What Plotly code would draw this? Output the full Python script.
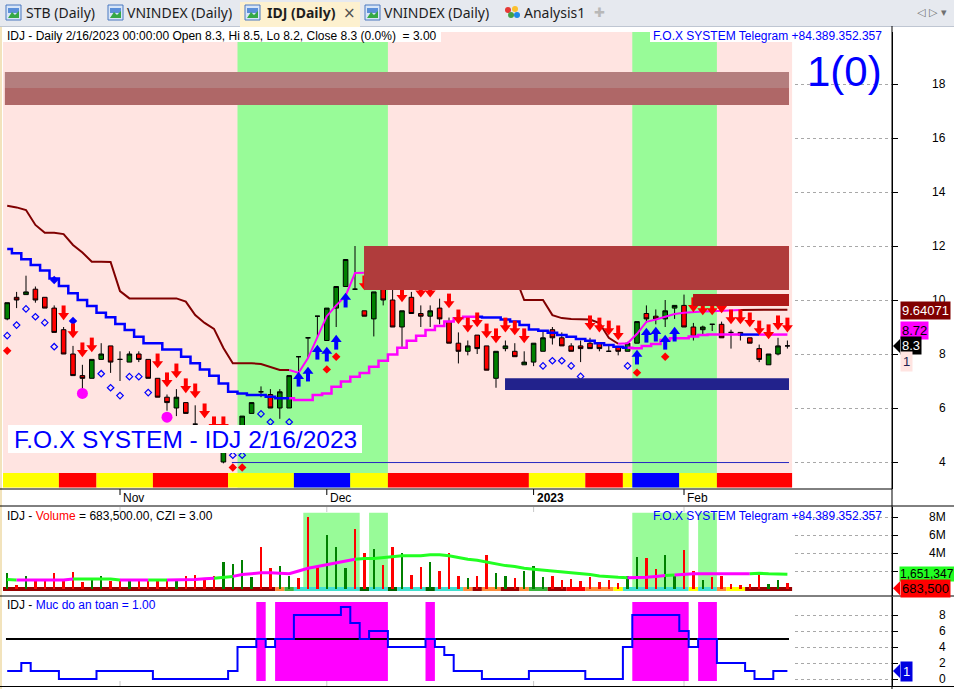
import plotly.graph_objects as go

W, H = 954, 689

# ======================= DATA =======================
bars = list(range(84))
month_labels = ["Nov", "Dec", "2023", "Feb"]
month_bars = [12, 34, 56, 72]
month_bold = [False, False, True, False]

opens = [9.3, 10.1, 10.2, 10.4, 10.1, 9.7, 8.9, 8.0, 7.2, 7.1,
         7.8, 8.3, 7.8, 7.7, 8.0, 7.8, 7.1, 6.4, 6.0, 6.2,
         5.4, 5.3, 5.0, 4.0, 4.4, 5.1, 5.8, 6.6, 6.5, 6.0,
         6.0, 7.9, 8.6, 9.4, 8.5, 9.7, 10.5, 10.4, 9.6, 9.3,
         10.9, 10.0, 9.0, 10.1, 9.5, 9.4, 9.7, 9.2, 8.4, 8.1,
         8.7, 8.3, 7.1, 8.2, 8.1, 7.6, 7.7, 8.1, 8.9, 8.6,
         8.3, 8.3, 8.4, 8.4, 8.1, 8.25, 8.1, 8.4, 9.5, 9.4,
         9.3, 9.7, 9.8, 9.0, 8.9, 9.1, 9.1, 8.8, 8.8, 8.6,
         8.2, 7.6, 8.0, 8.3]
highs = [9.9, 10.3, 10.9, 10.5, 10.1, 9.8, 9.0, 8.3, 7.6, 7.8,
         8.4, 8.3, 8.1, 8.1, 8.1, 7.8, 7.1, 6.5, 6.7, 6.2,
         6.1, 5.35, 5.1, 4.5, 4.9, 5.7, 6.2, 6.8, 6.7, 6.7,
         7.2, 7.9, 8.6, 9.4, 9.7, 10.5, 11.5, 12.0, 9.6, 10.3,
         11.0, 10.4, 9.6, 10.3, 9.8, 9.8, 10.05, 9.35, 8.8, 8.5,
         8.7, 8.3, 8.1, 8.5, 8.4, 8.1, 8.4, 8.85, 9.0, 8.8,
         8.4, 8.5, 8.6, 8.4, 8.35, 8.3, 8.45, 9.2, 9.8, 9.65,
         10.0, 9.8, 10.2, 9.15, 9.05, 9.1, 9.2, 8.9, 8.8, 8.6,
         8.35, 8.0, 8.6, 8.5]
lows = [9.25, 9.7, 10.2, 9.9, 9.7, 8.8, 8.0, 7.2, 6.7, 7.1,
        7.8, 7.3, 7.0, 7.7, 7.7, 7.1, 6.4, 5.9, 5.7, 5.8,
        5.4, 4.9, 4.5, 3.95, 4.35, 5.0, 5.8, 6.4, 6.0, 5.6,
        6.0, 7.35, 7.85, 8.6, 8.5, 9.0, 10.5, 10.4, 9.4, 8.65,
        9.8, 9.0, 8.2, 9.5, 9.0, 9.0, 9.1, 8.4, 7.65, 7.95,
        8.0, 7.4, 6.75, 8.1, 7.9, 7.6, 7.55, 8.1, 8.35, 8.3,
        8.1, 7.7, 8.2, 8.1, 8.1, 7.95, 8.1, 8.4, 9.15, 9.1,
        9.0, 9.3, 9.0, 8.5, 8.7, 8.85, 8.6, 8.2, 8.5, 8.4,
        7.7, 7.6, 7.95, 8.2]
closes = [9.9, 10.0, 10.3, 10.0, 9.7, 8.8, 8.0, 7.2, 7.1, 7.8,
          8.0, 7.7, 7.8, 8.0, 7.8, 7.1, 6.4, 6.2, 6.4, 5.8,
          5.4, 5.0, 4.6, 4.4, 4.8, 5.7, 6.2, 6.6, 6.0, 6.6,
          7.2, 7.9, 8.6, 9.4, 9.7, 10.5, 11.5, 10.4, 9.4, 10.3,
          10.0, 9.0, 9.6, 9.5, 9.4, 9.6, 9.3, 8.4, 8.1, 8.3,
          8.2, 7.4, 8.1, 8.3, 7.9, 7.7, 8.4, 8.6, 8.6, 8.3,
          8.1, 8.2, 8.2, 8.2, 8.1, 8.1, 8.4, 9.2, 9.3, 9.3,
          9.6, 9.8, 9.0, 8.65, 9.0, 9.1, 8.6, 8.8, 8.7, 8.4,
          7.8, 8.0, 8.3, 8.3]

# upper trailing line (dark red when bearish, magenta when bullish)
line_a = [13.49, 13.43, 13.33, 12.78, 12.49, 12.49, 12.44, 12.04, 11.76, 11.42,
          11.42, 11.41, 10.33, 10.06, 10.06, 10.06, 10.06, 10.06, 10.06, 9.94,
          9.44, 9.15, 8.93, 8.22, 7.66, 7.66, 7.66, 7.63, 7.52, 7.41,
          7.41, 7.30, 7.85, 8.60, 9.40, 9.80, 10.15, 11.00, 11.02, 11.02,
          11.02, 11.02, 11.02, 11.02, 11.02, 11.02, 11.02, 11.60, 11.50, 11.40,
          11.30, 11.20, 11.10, 11.00, 10.90, 10.00, 10.00, 10.00, 9.44, 9.33,
          9.30, 9.28, 9.28, 9.15, 8.60, 8.38, 8.40, 8.75, 9.19, 9.28,
          9.37, 9.48, 9.53, 9.56, 9.57, 9.58, 9.60, 9.60, 9.63, 9.64,
          9.64, 9.64, 9.64, 9.64071]
line_a_runs = [("D", 31), ("M", 16), ("D", 19), ("M", 13), ("D", 5)]

# lower trailing step line (blue when above price, magenta when below)
line_b = [11.89, 11.73, 11.51, 11.30, 11.09, 10.80, 10.52, 10.25, 10.00, 9.78,
          9.53, 9.36, 9.11, 8.89, 8.64, 8.40, 8.40, 8.17, 8.17, 7.90,
          7.66, 7.43, 7.19, 6.91, 6.60, 6.54, 6.48, 6.48, 6.42, 6.36,
          6.36, 6.30, 6.30, 6.48, 6.54, 6.79, 6.98, 7.16, 7.30, 7.53,
          7.75, 7.98, 8.23, 8.49, 8.68, 8.89, 9.04, 9.20, 9.32, 9.38,
          9.38, 9.35, 9.35, 9.28, 9.20, 9.07, 8.91, 8.86, 8.79, 8.70,
          8.64, 8.56, 8.49, 8.40, 8.33, 8.27, 8.23, 8.21, 8.30, 8.37,
          8.52, 8.58, 8.58, 8.65, 8.70, 8.72, 8.72, 8.72, 8.72, 8.72,
          8.72, 8.72, 8.72, 8.72]
line_b_runs = [("B", 31), ("M", 20), ("B", 16), ("M", 12), ("B", 2), ("M", 3)]

sell_bars = [6, 7, 8, 9, 16, 17, 18, 19, 20, 21, 22, 23, 38, 42, 44, 45, 47, 48, 49, 50,
             51, 52, 53, 54, 55, 62, 63, 64, 65, 73, 74, 75, 76, 77, 78, 79, 80, 81, 82, 83]
sell_tip = [9.26, 8.59, 7.89, 8.07, 7.48, 6.78, 7.11, 6.56, 6.37, 5.63, 5.15, 5.15, 10.37, 9.93,
            10.1, 10.1, 9.7, 9.11, 8.81, 9.0, 8.59, 8.41, 8.81, 8.7, 8.41, 8.89, 8.81, 8.7, 8.52,
            9.56, 9.44, 9.44, 9.52, 9.11, 9.11, 9.0, 8.7, 8.56, 8.89, 8.81]
buy_bars = [31, 32, 33, 34, 35, 36, 67, 68, 69, 70, 71]
buy_tip = [7.33, 7.52, 8.33, 8.26, 8.7, 10.26, 8.15, 8.96, 9.0, 8.7, 9.0]

open_diamond_bars = [0, 1, 2, 3, 4, 5, 10, 11, 12, 13, 14, 15, 24, 25, 27, 28, 30, 57, 58, 59, 60, 61, 66]
open_diamond_y = [8.68, 9.07, 9.67, 9.38, 9.16, 8.27, 7.27, 6.75, 6.46, 7.16, 7.16, 6.57, 4.25, 4.25,
                  5.78, 5.48, 5.48, 7.56, 7.75, 7.75, 7.56, 7.17, 7.56]
blue_dot_bars = [5, 7]
blue_dot_y = [10.74, 9.22]
red_dot_bars = [0, 23, 24, 25, 34, 35, 67, 70]
red_dot_y = [8.12, 2.9, 3.8, 3.8, 7.43, 7.9, 7.31, 7.9]
circle_bars = [8, 17]
circle_y = [6.54, 5.66]

# horizontal zones drawn on the price pane: (x0 bar, x1 bar, low, high, colour)
price_boxes = [
    (-0.25, 83.17, 17.85, 18.44, "#B47E7E"),
    (-0.25, 83.17, 17.22, 17.85, "#AF6767"),
    (37.96, 83.17, 10.37, 12.00, "#B03C3C"),
    (72.96, 83.17, 9.78, 10.22, "#B01818"),
    (52.96, 83.17, 6.67, 7.10, "#22228C"),
]
support_line = (23.9, 83.17, 3.98)

green_zones_main = [(25, 40), (67, 75)]
green_zones_vol = [(32, 37), (39, 40), (67, 72), (74, 75)]
ribbon_main_runs = [("Y", 6), ("R", 4), ("Y", 6), ("R", 8), ("Y", 7), ("B", 6), ("Y", 4), ("R", 15),
                    ("Y", 6), ("R", 4), ("Y", 1), ("B", 5), ("Y", 4), ("R", 8)]

volume_m = [1.8, 0.5, 1.5, 0.9, 1.1, 1.8, 0.9, 1.9, 0.8, 1.0,
            1.4, 0.9, 0.9, 1.0, 1.1, 0.9, 1.0, 1.0, 1.0, 1.4,
            1.6, 1.1, 1.4, 3.0, 2.8, 3.2, 1.3, 4.7, 2.3, 2.6,
            1.5, 1.2, 8.0, 2.6, 6.0, 4.7, 2.3, 6.7, 4.0, 4.5,
            2.7, 4.7, 4.0, 1.6, 2.4, 3.0, 2.0, 4.0, 1.5, 1.2,
            1.5, 3.8, 1.8, 1.4, 1.2, 2.0, 2.6, 1.3, 1.5, 1.0,
            1.1, 0.9, 1.3, 0.8, 1.0, 0.7, 1.5, 3.6, 3.4, 2.2,
            3.8, 1.5, 4.3, 2.0, 1.0, 1.3, 1.4, 0.6, 0.5, 0.6,
            1.8, 0.6, 1.0, 0.6835]
vol_ma_m = [1.05, 1.0, 1.0, 1.0, 1.0, 1.0, 1.0, 1.1, 1.1, 1.1,
            1.1, 1.1, 1.0, 1.0, 1.0, 1.0, 1.0, 1.0, 1.0, 1.0,
            1.05, 1.15, 1.2, 1.3, 1.4, 1.6, 1.7, 1.8, 1.8, 1.75,
            1.7, 2.0, 2.3, 2.5, 2.7, 2.9, 3.1, 3.3, 3.4, 3.4,
            3.5, 3.6, 3.7, 3.7, 3.7, 3.8, 3.8, 3.7, 3.5, 3.3,
            3.2, 3.0, 2.8, 2.6, 2.5, 2.3, 2.2, 2.1, 2.0, 1.9,
            1.85, 1.7, 1.6, 1.45, 1.35, 1.3, 1.25, 1.25, 1.3, 1.4,
            1.5, 1.55, 1.65, 1.7, 1.7, 1.7, 1.7, 1.7, 1.7, 1.7,
            1.75, 1.7, 1.65, 1.651347]
vol_ma_runs = [("g", 2), ("m", 6), ("g", 5), ("m", 3), ("g", 2), ("m", 5), ("g", 2), ("m", 13),
               ("g", 29), ("m", 4), ("g", 1), ("m", 8), ("g", 4)]
vol_ribbon_runs = [("D", 29), ("O", 1), ("G", 1), ("C", 7), ("K", 1), ("C", 2), ("K", 1), ("C", 3),
                   ("K", 1), ("C", 3), ("O", 1), ("D", 1), ("O", 2), ("D", 2), ("O", 1), ("G", 2),
                   ("D", 2), ("R", 2), ("O", 3), ("Y", 1), ("C", 7), ("Y", 1), ("C", 2), ("O", 1),
                   ("Y", 2), ("D", 5)]

safety_level = [1, 1, 2, 1, 1, 1, 0, 0, 0, 0,
                1, 1, 1, 1, 1, 1, 0, 0, 0, 0,
                0, 0, 0, 0, 1, 4, 4, 5, 4, 5,
                5, 8, 8, 8, 8, 8, 9, 7, 5, 6,
                6, 4, 4, 4, 4, 5, 4, 3, 1, 1,
                1, 0, 0, 0, 0, 0, 1, 1, 1, 1,
                1, 1, 0, 0, 0, 0, 4, 8, 8, 8,
                8, 8, 6, 4, 5, 5, 2, 2, 2, 1,
                0, 0, 1, 1]
safety_threshold = 5

price_ticks = [4, 6, 8, 10, 12, 14, 16, 18]
vol_ticks = [2e6, 4e6, 6e6, 8e6]
vol_tick_text = ["", "4M", "6M", "8M"]   # the 2M label is hidden behind the MA value tag
safety_ticks = [0, 2, 4, 6, 8]

title_text = "IDJ - Daily 2/16/2023 00:00:00 Open 8.3, Hi 8.5, Lo 8.2, Close 8.3 (0.0%)  = 3.00"
telegram_text = "F.O.X SYSTEM Telegram +84.389.352.357"
big_text = "F.O.X SYSTEM - IDJ 2/16/2023"
signal_text = "1(0)"
tab_labels = ["STB (Daily)", "VNINDEX (Daily)", "IDJ (Daily)", "VNINDEX (Daily)", "Analysis1"]

# ======================= LAYOUT GEOMETRY =======================
PLOT_L, PLOT_R = 3, 892
MAIN_TOP, MAIN_BOT = 32, 489
VOL_TOP, VOL_BOT = 507, 596
SAFE_TOP, SAFE_BOT = 597, 686
X_RANGE = [-0.4468, 94.128]
Y_MAIN = [3.0, 19.926]
Y_VOL = [-0.778e6, 9.111e6]
Y_SAFE = [-0.875, 10.25]
PU = (Y_MAIN[1] - Y_MAIN[0]) / (MAIN_BOT - MAIN_TOP)   # price units per pixel
BLUE = "#0000FF"
FONT = "Liberation Sans, Arial, sans-serif"


def px(x):
    return x / W


def py(y):
    return 1 - y / H


def main_py(v):
    return MAIN_BOT - (v - Y_MAIN[0]) / (Y_MAIN[1] - Y_MAIN[0]) * (MAIN_BOT - MAIN_TOP)


def vol_py(v):
    return VOL_BOT - (v - Y_VOL[0]) / (Y_VOL[1] - Y_VOL[0]) * (VOL_BOT - VOL_TOP)


def safe_py(v):
    return SAFE_BOT - (v - Y_SAFE[0]) / (Y_SAFE[1] - Y_SAFE[0]) * (SAFE_BOT - SAFE_TOP)


def expand(runs):
    out = []
    for code, n in runs:
        out += [code] * n
    return out


def runs_of(codes):
    res = []
    start = 0
    for i in range(1, len(codes) + 1):
        if i == len(codes) or codes[i] != codes[start]:
            res.append((codes[start], start, i - 1))
            start = i
    return res


fig = go.Figure()
shapes = []
annotations = []


def rect(x0, x1, y0, y1, color, xref="x", yref="y", layer="between"):
    shapes.append(dict(type="rect", xref=xref, yref=yref, x0=x0, x1=x1, y0=y0, y1=y1,
                       fillcolor=color, line=dict(width=0), layer=layer))


def prect(x0, x1, y0, y1, color, line_color=None, lw=0):
    shapes.append(dict(type="rect", xref="paper", yref="paper", x0=px(x0), x1=px(x1),
                       y0=py(y1), y1=py(y0), fillcolor=color,
                       line=dict(width=lw, color=line_color or color), layer="above"))


def pline(x0, y0, x1, y1, color="black", w=1, dash="solid"):
    shapes.append(dict(type="line", xref="paper", yref="paper", x0=px(x0), y0=py(y0),
                       x1=px(x1), y1=py(y1), line=dict(color=color, width=w, dash=dash), layer="above"))


def ppath(points, color):
    d = "M " + " L ".join(f"{px(a):.5f},{py(b):.5f}" for a, b in points) + " Z"
    shapes.append(dict(type="path", xref="paper", yref="paper", path=d, fillcolor=color,
                       line=dict(width=0), layer="above"))


def text(t, x, y, size=12, color="black", xanchor="left", yanchor="middle", family=FONT, **kw):
    annotations.append(dict(text=t, x=px(x), y=py(y), xref="paper", yref="paper", showarrow=False,
                            xanchor=xanchor, yanchor=yanchor, font=dict(size=size, color=color, family=family), **kw))


# ======================= BACKGROUND ZONES =======================
rect(-0.5, 83.5, 3.06, Y_MAIN[1], "#FFE4E1")
for a, b in green_zones_main:
    rect(a - 0.5, b + 0.5, 3.06, Y_MAIN[1], "#98FB98")
ribbon_colors = {"Y": "#FFFF00", "R": "#FF0000", "B": "#0000FF"}
for code, a, b in runs_of(expand(ribbon_main_runs)):
    rect(a - 0.5, b + 0.5, 3.06, 3.59, ribbon_colors[code])

# volume pane
rect(-0.5, 83.5, Y_VOL[0], Y_VOL[1], "white", yref="y2")
for a, b in green_zones_vol:
    rect(a - 0.5, b + 0.5, 0.22e6, 8.48e6, "#98FB98", yref="y2")
vr_colors = {"D": "#990000", "O": "#FF8C3A", "G": "#3CB43C", "C": "#40E0D0", "K": "#006400",
             "R": "#FF0000", "Y": "#FFFF00"}
for code, a, b in runs_of(expand(vol_ribbon_runs)):
    rect(a - 0.5, b + 0.5, -0.22e6, 0.22e6, vr_colors[code], yref="y2")

# safety pane
rect(-0.5, 83.5, Y_SAFE[0], Y_SAFE[1], "white", yref="y3")
hot = ["H" if v >= safety_threshold else "-" for v in safety_level]
for code, a, b in runs_of(hot):
    if code == "H":
        rect(a - 0.5, b + 0.5, -0.25, 9.625, "#FF00FF", yref="y3")

# ======================= PRICE PANE TRACES =======================
def add_segments(values, codes, colors, shape, width, yaxis):
    for code, a, b in runs_of(codes):
        s = max(a - 1, 0)
        fig.add_trace(go.Scatter(x=bars[s:b + 1], y=values[s:b + 1], mode="lines",
                                 line=dict(color=colors[code], width=width, shape=shape),
                                 yaxis=yaxis, hoverinfo="skip"))


add_segments(line_a, expand(line_a_runs), {"D": "#800000", "M": "#FF00FF"}, "linear", 2, "y")
add_segments(line_b, expand(line_b_runs), {"B": "#0000FF", "M": "#FF00FF"}, "hvh", 2.5, "y")

fig.add_trace(go.Scatter(x=open_diamond_bars, y=open_diamond_y, mode="markers",
                         marker=dict(symbol="diamond-open", size=5, color=BLUE, line=dict(width=1.2, color=BLUE))))
fig.add_trace(go.Scatter(x=blue_dot_bars, y=blue_dot_y, mode="markers",
                         marker=dict(symbol="diamond", size=6.5, color=BLUE)))
fig.add_trace(go.Scatter(x=red_dot_bars, y=red_dot_y, mode="markers", cliponaxis=False,
                         marker=dict(symbol="diamond", size=6.5, color="#FF0000")))
fig.add_trace(go.Scatter(x=circle_bars, y=circle_y, mode="markers",
                         marker=dict(symbol="circle", size=11, color="#FF00FF")))

# arrows: shaft (line) + head (triangle)
sx, sy = [], []
for b, t in zip(sell_bars, sell_tip):
    sx += [b, b, None]
    sy += [t + 5.5 * PU, t + 14.5 * PU, None]
fig.add_trace(go.Scatter(x=sx, y=sy, mode="lines", line=dict(color="#FF0000", width=4)))
fig.add_trace(go.Scatter(x=sell_bars, y=[t + 4.5 * PU for t in sell_tip], mode="markers",
                         marker=dict(symbol="triangle-down", size=9.5, color="#FF0000", line=dict(width=0))))
bx, by = [], []
for b, t in zip(buy_bars, buy_tip):
    bx += [b, b, None]
    by += [t - 5.5 * PU, t - 14.5 * PU, None]
fig.add_trace(go.Scatter(x=bx, y=by, mode="lines", line=dict(color=BLUE, width=4)))
fig.add_trace(go.Scatter(x=buy_bars, y=[t - 4.5 * PU for t in buy_tip], mode="markers",
                         marker=dict(symbol="triangle-up", size=9.5, color=BLUE, line=dict(width=0))))

# zone boxes (drawn above lines / arrows, below candles)
for x0, x1, lo, hi, col in price_boxes:
    fig.add_trace(go.Scatter(x=[x0, x1, x1, x0, x0], y=[lo, lo, hi, hi, lo], mode="lines",
                             fill="toself", fillcolor=col, line=dict(width=0, color=col)))
fig.add_trace(go.Scatter(x=[support_line[0], support_line[1]], y=[support_line[2]] * 2, mode="lines",
                         line=dict(color="#2828C0", width=1)))

fig.add_trace(go.Candlestick(
    x=bars, open=opens, high=highs, low=lows, close=closes,
    increasing=dict(fillcolor="#008000", line=dict(color="black", width=1)),
    decreasing=dict(fillcolor="#FF0000", line=dict(color="black", width=1)),
    whiskerwidth=0, hoverinfo="skip"))

# ======================= VOLUME PANE TRACES =======================
vol_colors = ["#008000" if c > o else "#FF0000" for o, c in zip(opens, closes)]
fig.add_trace(go.Bar(x=bars, y=[v * 1e6 for v in volume_m], width=0.25, yaxis="y2",
                     marker=dict(color=vol_colors, line=dict(width=0))))
add_segments([v * 1e6 for v in vol_ma_m], expand(vol_ma_runs), {"g": "#22FF22", "m": "#FF00FF"},
             "linear", 3, "y2")

# ======================= SAFETY PANE TRACES =======================
fig.add_trace(go.Scatter(x=[-0.13, 83.17], y=[safety_threshold] * 2, mode="lines", yaxis="y3",
                         line=dict(color="black", width=2)))
fig.add_trace(go.Scatter(x=bars, y=safety_level, mode="lines", yaxis="y3",
                         line=dict(color=BLUE, width=2, shape="hvh")))

# ======================= DECORATION =======================
# tab bar
prect(0, 954, 0, 26, "#E6E9EF")
prect(240, 360, 2, 27, "#FDF1CF")
pline(0, 26.5, 240, 26.5, "#BFC6D2")
pline(360, 26.5, 954, 26.5, "#BFC6D2")
tab_x = [24, 125, 265, 382, 522]
icon_x = [6, 108, 245, 365]
for i, (lab, x) in enumerate(zip(tab_labels, tab_x)):
    t = "<b>" + lab + "</b>" if i == 2 else lab
    text(t, x, 13, size=14, color="#1E1E1E", family="Noto Sans, DejaVu Sans, sans-serif")
for x in icon_x:
    prect(x, x + 15, 5, 20, "#D8E6F8", "#4A78C0", 1)
    prect(x + 2, x + 13, 8, 13, "#5B8FD9")
    ppath([(x + 2, 18), (x + 6, 12), (x + 9, 15), (x + 13, 11), (x + 13, 18)], "#35A845")
for cx, cy, col in [(508, 10, "#E53935"), (515, 9, "#FBC02D"), (511, 15, "#43A047"), (517, 15, "#1E88E5")]:
    shapes.append(dict(type="circle", xref="paper", yref="paper", x0=px(cx - 3), x1=px(cx + 3),
                       y0=py(cy + 3), y1=py(cy - 3), fillcolor=col, line=dict(width=0), layer="above"))
text("×", 349, 13, size=15, color="#505050", xanchor="center", family="DejaVu Sans")
text("✚", 599, 13, size=13, color="#B8B8B8", xanchor="center", family="DejaVu Sans")
text("◁ ▷ ▾", 932, 13, size=11, color="#707070", xanchor="center", family="DejaVu Sans")

# frame lines
prect(0, 2, 27, 689, "#F2E3BC")
pline(PLOT_R, 26, PLOT_R, 689)
pline(0, MAIN_BOT, PLOT_R, MAIN_BOT)
pline(0, 506, 954, 506)
pline(0, 596, 954, 596)
pline(0, 686.5, 954, 686.5)
for b in month_bars:
    shapes.append(dict(type="line", xref="x", yref="paper", x0=b, x1=b, y0=py(MAIN_BOT), y1=py(495),
                       line=dict(color="black", width=1), layer="above"))
    shapes.append(dict(type="line", xref="x", yref="paper", x0=b, x1=b, y0=py(VOL_TOP), y1=py(VOL_TOP + 5),
                       line=dict(color="#C8C8C8", width=1), layer="above"))
    shapes.append(dict(type="line", xref="x", yref="paper", x0=b, x1=b, y0=py(SAFE_BOT), y1=py(SAFE_BOT - 5),
                       line=dict(color="#C8C8C8", width=1), layer="above"))

# title backgrounds
prect(3, 441, 27, 42, "white")
prect(650, 891, 27, 42, "white")
prect(8, 362, 425, 453, "white")

# texts
text(title_text, 5, 35.5, size=12)
text(telegram_text, 651, 35.5, size=12, color=BLUE)
text(signal_text, 844, 72, size=42, color=BLUE, xanchor="center")
text(big_text, 185, 439.5, size=24.5, color=BLUE, xanchor="center")
text("IDJ - <span style='color:#FF0000'>Volume</span> = 683,500.00, CZI = 3.00", 5, 516, size=12)
text(telegram_text, 651, 516, size=12, color=BLUE)
text("IDJ - <span style='color:#0000FF'>Muc do an toan = 1.00</span>", 5, 605, size=12)

for lab, b, bold in zip(month_labels, month_bars, month_bold):
    annotations.append(dict(text="<b>" + lab + "</b>" if bold else lab, x=b, xref="x", y=py(497.5),
                            yref="paper", xanchor="left", yanchor="middle", xshift=1, showarrow=False,
                            font=dict(size=12, color="black", family=FONT)))

for v in price_ticks:
    annotations.append(dict(text=str(v), x=px(948), xref="paper", y=v, yref="y", xanchor="right",
                            yanchor="middle", showarrow=False, font=dict(size=12, family=FONT)))
for v, t in zip(vol_ticks, vol_tick_text):
    if t:
        annotations.append(dict(text=t, x=px(948), xref="paper", y=v, yref="y2", xanchor="right",
                                yanchor="middle", showarrow=False, font=dict(size=12, family=FONT)))
for v in safety_ticks:
    annotations.append(dict(text=str(v), x=px(948), xref="paper", y=v, yref="y3", xanchor="right",
                            yanchor="middle", showarrow=False, font=dict(size=12, family=FONT)))


def value_label(t, y, yref, bg, fg, yshift=0, pointer=False, ycenter=None, x0=900, pad=1, size=13):
    annotations.append(dict(text=t, x=px(x0), xref="paper", y=y, yref=yref, xanchor="left",
                            yanchor="middle", yshift=yshift, showarrow=False, bgcolor=bg, borderpad=pad,
                            font=dict(size=size, color=fg, family=FONT)))
    if pointer:
        ppath([(893, ycenter), (x0, ycenter - 7), (x0, ycenter + 7)], bg)


last = len(bars) - 1
value_label("9.64071", line_a[last], "y", "#800000", "white", yshift=-1)
value_label("8.72", line_b[last], "y", "#FF00FF", "black", yshift=4)
value_label("8.3", closes[last], "y", "black", "white", pointer=True, ycenter=main_py(closes[last]))
value_label("1", closes[last], "y", "#FFE4E1", "#202050", yshift=-15.5, pad=2)
value_label("1,651,347", vol_ma_m[last] * 1e6, "y2", "#22FF22", "black", x0=899, pad=0, size=12)
value_label("683,500", volume_m[last] * 1e6, "y2", "#FF0000", "black", yshift=-5.5, pointer=True,
            ycenter=vol_py(volume_m[last] * 1e6) + 5.5)
value_label(str(safety_level[last]), safety_level[last], "y3", "#0000E0", "white", pointer=True,
            ycenter=safe_py(safety_level[last]), pad=2)

# ======================= AXES =======================
def yax(domain, rng, ticks):
    return dict(domain=domain, range=rng, side="right", anchor="x", showline=True, linecolor="black",
                linewidth=1, ticks="outside", ticklen=5, tickcolor="black", tickvals=ticks,
                showticklabels=False, showgrid=True, gridcolor="#A8A8A8", griddash="dot", gridwidth=1,
                zeroline=False, fixedrange=True)


fig.update_layout(
    width=W, height=H, margin=dict(l=0, r=0, t=0, b=0),
    paper_bgcolor="white", plot_bgcolor="white", showlegend=False, hovermode=False,
    font=dict(family=FONT, size=12, color="black"),
    xaxis=dict(domain=[px(PLOT_L), px(PLOT_R)], range=X_RANGE, showgrid=False, zeroline=False,
               showticklabels=False, ticks="", showline=False, fixedrange=True,
               rangeslider=dict(visible=False)),
    yaxis=yax([py(MAIN_BOT), py(MAIN_TOP)], Y_MAIN, price_ticks),
    yaxis2=yax([py(VOL_BOT), py(VOL_TOP)], Y_VOL, vol_ticks),
    yaxis3=yax([py(SAFE_BOT), py(SAFE_TOP)], Y_SAFE, safety_ticks),
    shapes=shapes, annotations=annotations, bargap=0,
)

fig.write_html("out.html", config={"displayModeBar": False},
               post_script="document.body.style.margin='0';document.body.style.overflow='hidden';")
